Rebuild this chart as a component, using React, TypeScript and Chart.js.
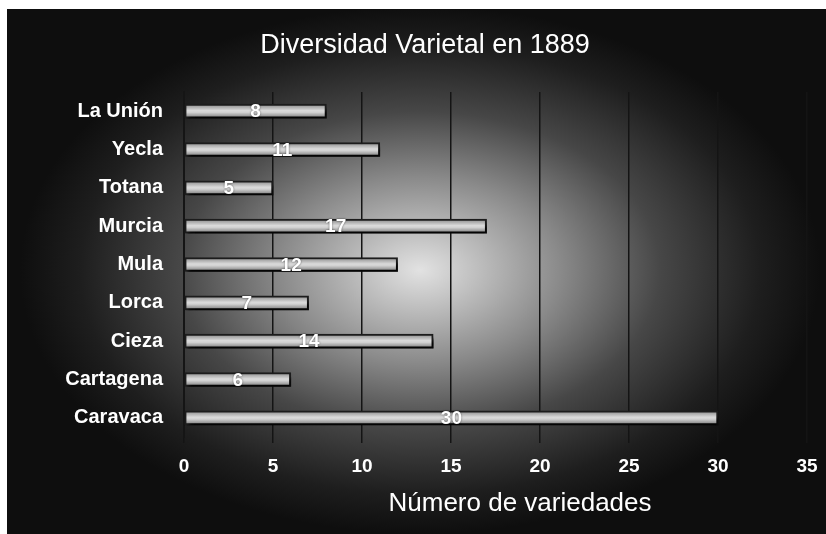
import { useEffect, useRef } from "react";
import { Chart, registerables } from "chart.js";

Chart.register(...registerables);

const categories = ["La Unión", "Yecla", "Totana", "Murcia", "Mula", "Lorca", "Cieza", "Cartagena", "Caravaca"];
const values = [8, 11, 5, 17, 12, 7, 14, 6, 30];
const xMin = 0;
const xMax = 35;
const xStep = 5;
const titleText = "Diversidad Varietal en 1889";
const axisTitleText = "Número de variedades";

const FONT = "'Liberation Sans', Arial, sans-serif";

const backgroundPlugin = {
  id: "glowBackground",
  beforeDraw(chart: any) {
    const { ctx, width, height } = chart;
    ctx.save();
    ctx.fillStyle = "#0e0e0e";
    ctx.fillRect(0, 0, width, height);
    const cx = 413;
    const cy = 261;
    const sy = 0.66;
    ctx.translate(cx, cy);
    ctx.scale(1, sy);
    const r = 400;
    const g = ctx.createRadialGradient(0, 0, 0, 0, 0, r);
    g.addColorStop(0, "#e2e2e2");
    g.addColorStop(0.12, "#c4c4c4");
    g.addColorStop(0.35, "#8a8a8a");
    g.addColorStop(0.6, "#474747");
    g.addColorStop(0.85, "#1e1e1e");
    g.addColorStop(1, "#0e0e0e");
    ctx.fillStyle = g;
    ctx.fillRect(-cx, -cy / sy, width, height / sy);
    ctx.restore();
  },
  afterDraw(chart: any) {
    const c = chart.ctx;
    c.save();
    c.fillStyle = "#ffffff";
    c.textAlign = "center";
    c.textBaseline = "middle";
    c.font = `normal 27px ${FONT}`;
    c.fillText(titleText, 418, 37);
    c.font = `normal 26px ${FONT}`;
    c.fillText(axisTitleText, 513, 495);
    c.restore();
  },
};

const barDecorPlugin = {
  id: "barDecor",
  beforeDatasetsDraw(chart: any) {
    const c = chart.ctx;
    c.save();
    c.shadowColor = "rgba(0,0,0,0.85)";
    c.shadowOffsetX = 3;
    c.shadowOffsetY = 5;
    c.shadowBlur = 3;
  },
  afterDatasetsDraw(chart: any) {
    const c = chart.ctx;
    c.restore();
    const meta = chart.getDatasetMeta(0);
    c.save();
    c.font = `bold 19px ${FONT}`;
    c.fillStyle = "#ffffff";
    c.textAlign = "center";
    c.textBaseline = "middle";
    c.shadowColor = "rgba(0,0,0,0.6)";
    c.shadowBlur = 2;
    meta.data.forEach((bar: any, i: number) => {
      const x = (bar.x + bar.base) / 2;
      c.fillText(String(values[i]), x, bar.y + 1);
    });
    c.restore();
  },
};

export default function App() {
  const ref = useRef<HTMLCanvasElement | null>(null);

  useEffect(() => {
    if (!ref.current) return;
    const chart = new Chart(ref.current, {
      type: "bar",
      data: {
        labels: categories,
        datasets: [
          {
            data: values,
            barThickness: 14,
            borderWidth: 2,
            borderColor: "#1c1c1c",
            borderSkipped: false,
            backgroundColor: (ctx: any) => {
              const chart = ctx.chart;
              const y = chart.scales?.y;
              if (!y || ctx.dataIndex === undefined) return "#c4c4c4";
              const cy = y.getPixelForValue(ctx.dataIndex);
              if (!Number.isFinite(cy)) return "#c4c4c4";
              const g = chart.ctx.createLinearGradient(0, cy - 6, 0, cy + 6);
              g.addColorStop(0, "#949494");
              g.addColorStop(0.45, "#dadada");
              g.addColorStop(0.6, "#d2d2d2");
              g.addColorStop(1, "#858585");
              return g;
            },
          },
        ],
      },
      options: {
        indexAxis: "y",
        animation: false,
        responsive: false,
        maintainAspectRatio: false,
        layout: { padding: { top: 83, right: 19, bottom: 0, left: 0 } },
        plugins: {
          legend: { display: false },
          tooltip: { enabled: false },
          title: { display: false },
        },
        scales: {
          x: {
            type: "linear",
            min: xMin,
            max: xMax,
            afterFit: (scale: any) => {
              scale.height = 97;
              scale.paddingRight = 0;
              scale.paddingLeft = 0;
            },
            ticks: {
              stepSize: xStep,
              color: "#ffffff",
              font: { family: FONT, size: 19, weight: "bold" },
              padding: 12,
            },
            grid: { color: "#141414", lineWidth: 1.5, drawTicks: true, tickLength: 6, tickColor: "#141414" },
            border: { display: false },
            title: { display: false },
          },
          y: {
            type: "category",
            afterFit: (scale: any) => {
              scale.width = 177;
            },
            ticks: {
              color: "#ffffff",
              font: { family: FONT, size: 20, weight: "bold" },
              padding: 21,
            },
            grid: { display: false, drawTicks: false },
            border: { display: true, color: "#151515", width: 2 },
          },
        },
      },
      plugins: [backgroundPlugin, barDecorPlugin],
    } as any);
    chart.update();
    return () => chart.destroy();
  }, []);

  return (
    <div
      style={{
        position: "absolute",
        left: 0,
        top: 0,
        width: 826,
        height: 534,
        background: "#ffffff",
        overflow: "hidden",
      }}
    >
      <canvas
        ref={ref}
        width={819}
        height={525}
        style={{ position: "absolute", left: 7, top: 9, width: 819, height: 525, display: "block" }}
      />
    </div>
  );
}
